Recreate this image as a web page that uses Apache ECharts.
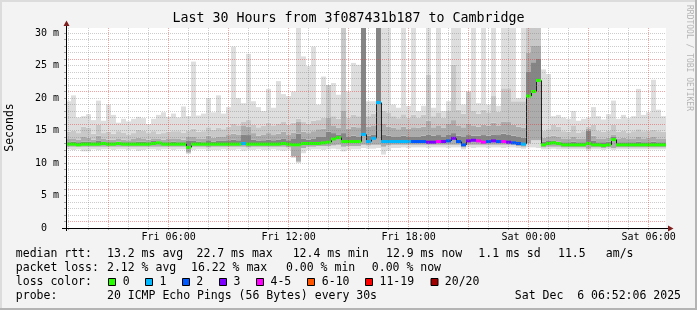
<!DOCTYPE html>
<html><head><meta charset="utf-8">
<script src="https://cdn.jsdelivr.net/npm/echarts@6/dist/echarts.min.js"></script>
<style>html,body{margin:0;padding:0;background:#f3f3f3}#c{width:697px;height:310px}</style>
</head><body><div id="c"></div>
<script>
// ---- time base (hours since Fri 00:00) ----
const START_HOUR = 52/60 + 6/3600;   // Fri 00:52:06
const STEP_HOURS = 0.25;             // one smoke column per 15 min
const SPAN_HOURS = 30;

// ---- tick labels ----
const hourTicks = [1,2,3,4,5,6,7,8,9,10,11,12,13,14,15,16,17,18,19,20,21,22,23,24,25,26,27,28,29,30];
const labelHours = [6,12,18,24,30];
const xTickLabels = ['Fri 06:00','Fri 12:00','Fri 18:00','Sat 00:00','Sat 06:00'];

// ---- smoke (ms) per 15-min column ----
const mx = [19.5,20.4,17.0,17.2,17.5,16.6,19.6,16.5,19.0,17.4,
 16.2,16.8,16.4,16.8,17.1,16.9,16.0,16.8,17.4,17.8,
 17.1,17.6,17.0,18.7,17.2,25.6,17.3,17.6,20.0,17.8,
 20.4,17.6,18.6,27.9,20.0,19.2,26.8,19.5,18.6,18.0,
 21.4,18.5,22.6,20.6,20.3,21.0,30.8,26.4,24.9,27.9,
 19.0,23.3,21.3,22.3,20.5,30.8,21.0,25.4,25.1,30.8,
 19.5,19.5,30.8,30.8,30.8,19.0,18.5,30.8,18.8,30.8,
 18.0,18.8,30.8,18.5,30.8,18.0,19.5,30.8,30.8,19.0,
 18.6,30.8,19.2,30.8,19.0,30.8,18.8,30.8,30.8,30.8,
 20.0,30.8,30.8,30.8,30.8,24.4,23.7,17.2,17.4,17.0,
 16.8,18.0,16.5,16.8,17.0,18.6,17.2,16.7,17.5,19.6,
 16.8,17.4,16.9,17.2,21.4,17.4,17.8,22.8,18.2,17.2];
const h2 = [14.8,15.0,14.6,15.6,15.4,14.5,15.9,14.6,14.8,14.5,
 14.9,14.7,14.4,14.6,15.1,15.0,14.6,14.9,14.5,14.6,
 14.8,14.9,14.9,14.7,15.0,15.3,14.8,14.9,15.5,15.1,
 15.4,15.2,15.6,16.0,15.8,16.4,16.6,15.9,15.5,15.7,
 16.2,15.8,16.0,16.4,15.9,16.2,16.8,16.3,16.0,16.5,
 16.6,17.0,22.0,17.2,16.8,30.8,17.0,17.4,17.2,30.8,
 17.2,17.6,30.8,18.0,17.8,17.2,16.9,17.5,17.0,17.4,
 17.0,17.4,23.6,17.2,17.8,17.0,18.0,25.1,18.2,17.6,
 21.0,18.0,17.6,18.2,17.8,20.3,17.9,21.5,21.5,19.5,
 19.5,19.5,30.8,30.8,30.8,15.0,15.2,15.9,15.6,14.9,
 14.8,15.8,14.7,14.9,15.6,15.9,15.0,14.8,15.0,15.9,
 14.8,15.0,14.7,14.9,15.2,14.9,15.0,15.1,14.9,14.8];
const h3 = [13.7,13.8,13.6,14.0,13.9,13.6,14.2,13.7,13.6,13.6,
 13.8,13.6,13.5,13.7,13.9,13.8,13.6,13.8,13.7,13.6,
 13.7,13.8,13.7,13.6,14.0,14.0,13.8,13.7,14.2,13.9,
 14.1,14.0,14.3,14.5,14.4,15.8,15.6,14.6,14.2,14.4,
 14.6,14.3,14.5,14.8,14.4,14.7,16.4,14.8,14.6,14.9,
 15.2,15.3,17.0,15.8,15.4,18.0,15.3,15.6,15.5,30.8,
 15.6,15.8,30.8,16.0,15.6,15.4,15.2,15.6,15.3,15.5,
 15.4,15.6,16.5,15.5,15.8,15.4,16.0,16.6,15.8,15.5,
 16.0,15.8,15.6,15.9,15.7,16.2,15.8,16.4,16.3,15.9,
 15.6,15.4,27.0,28.0,28.0,13.9,14.0,14.2,14.1,13.8,
 13.7,14.0,13.7,13.8,15.3,14.2,13.8,13.7,13.9,14.4,
 13.8,13.9,13.7,13.8,14.0,13.8,13.9,14.0,13.8,13.7];
const h4 = [13.2,13.3,13.2,13.3,13.3,13.2,13.4,13.2,13.2,13.2,
 13.3,13.2,13.2,13.2,13.3,13.3,13.2,13.4,13.3,13.2,
 13.2,13.3,13.2,13.2,13.4,13.4,13.3,13.2,13.5,13.3,
 13.4,13.4,13.5,13.6,13.5,14.4,14.3,13.6,13.4,13.5,
 13.6,13.5,13.6,13.7,13.5,13.8,14.5,13.7,13.6,13.7,
 14.0,14.1,14.8,14.6,14.4,14.6,14.0,14.2,14.1,30.8,
 14.2,14.4,30.8,14.4,14.2,14.1,14.0,14.2,14.0,14.1,
 14.1,14.2,14.4,14.2,14.3,14.1,14.4,14.6,14.2,14.0,
 14.3,14.2,14.2,14.3,14.2,14.4,14.3,14.5,14.4,14.2,
 14.0,13.9,24.0,25.5,26.0,13.3,13.4,13.4,13.3,13.2,
 13.2,13.3,13.2,13.2,15.0,13.4,13.2,13.2,13.3,14.1,
 13.2,13.2,13.2,13.2,13.3,13.2,13.2,13.3,13.2,13.2];
const md = [12.9,12.9,12.8,12.9,12.9,12.9,12.9,13.0,12.9,12.9,
 13.0,12.9,12.9,12.9,12.9,12.9,12.9,13.0,13.1,12.9,
 12.9,12.9,12.9,12.9,12.4,12.9,12.9,12.9,12.9,12.9,
 12.9,12.9,12.9,12.9,12.9,13.0,12.9,12.9,12.9,12.9,
 12.9,12.9,12.9,13.0,12.9,12.8,12.8,13.0,13.0,13.0,
 13.0,13.1,13.2,13.7,13.9,13.3,13.3,13.3,13.3,14.4,
 13.3,13.8,19.3,13.3,13.3,13.3,13.3,13.3,13.3,13.3,
 13.3,13.3,13.2,13.2,13.3,13.3,13.4,13.8,13.3,12.8,
 13.4,13.5,13.4,13.2,13.3,13.4,13.3,13.3,13.2,13.1,
 13.0,12.9,20.3,21.0,22.7,12.8,13.0,13.1,13.0,12.8,
 12.8,12.8,12.8,12.8,13.0,12.8,12.8,12.7,12.8,13.6,
 12.8,12.8,12.8,12.8,12.8,12.8,12.8,12.8,12.8,12.8];
const lo = [12.5,12.5,12.5,12.5,12.5,12.5,12.5,12.5,12.5,12.5,
 12.5,12.5,12.5,12.5,12.5,12.5,12.5,12.5,12.5,12.5,
 12.5,12.5,12.5,12.5,11.6,12.5,12.5,12.5,12.4,12.5,
 12.5,12.5,12.5,12.5,12.5,12.5,12.4,12.5,12.5,12.5,
 12.5,12.5,12.5,12.5,12.4,11.0,10.2,12.3,12.5,12.5,
 12.6,12.6,12.6,12.7,12.8,12.5,12.6,12.6,12.6,12.8,
 12.7,12.8,12.8,12.5,12.7,12.8,12.8,12.8,12.8,12.8,
 12.8,12.8,12.8,12.8,12.8,12.8,12.8,12.8,12.8,12.4,
 12.8,12.8,12.8,12.8,12.8,12.8,12.8,12.8,12.8,12.8,
 12.6,12.5,13.0,13.5,13.5,12.4,12.5,12.5,12.5,12.4,
 12.4,12.4,12.4,12.4,12.2,12.4,12.4,12.3,12.4,12.3,
 12.4,12.4,12.4,12.4,12.4,12.4,12.4,12.4,12.4,12.4];
const lw = [12.1,12.0,12.1,11.8,11.8,12.1,12.0,12.1,12.1,12.0,
 12.1,12.1,12.0,12.1,11.9,12.0,12.1,12.1,12.0,12.1,
 12.1,12.0,12.1,12.1,11.4,12.0,12.1,12.1,11.9,12.0,
 12.0,12.1,12.0,12.0,12.1,11.9,12.0,12.0,12.1,12.0,
 12.0,12.1,12.0,11.9,12.0,10.8,10.0,11.5,12.0,12.1,
 12.1,12.0,12.1,12.2,12.1,11.8,12.0,12.1,12.1,12.3,
 12.2,12.2,12.3,11.3,11.9,12.3,12.3,12.4,12.3,12.4,
 12.4,12.4,12.3,12.4,12.4,12.4,12.3,12.4,12.4,12.1,
 12.4,12.3,12.4,12.4,12.3,12.4,12.4,12.3,12.4,12.4,
 12.3,12.2,12.4,12.4,12.3,12.1,12.1,12.2,12.1,12.1,
 12.1,12.1,12.1,12.1,11.9,12.1,12.1,12.0,12.1,12.0,
 12.1,12.1,12.1,12.1,12.1,12.1,12.1,12.1,12.1,12.1];
// loss class index per column (0 = no loss, 1 = 1/20, 2 = 2/20, 3 = 3/20, 4 = 4-5/20)
const loss = [0,0,0,0,0,0,0,0,0,0, 0,0,0,0,0,0,0,0,0,0, 0,0,0,0,0,0,0,0,0,0,
 0,0,0,0,0,1,0,0,0,0, 0,0,0,0,0,0,0,0,0,0, 0,0,0,0,0,0,0,0,0,1,
 1,1,1,1,1,1,1,1,1,2, 2,2,3,3,4,3,2,3,2,2, 3,3,4,4,2,3,2,4,3,2,
 2,1,0,0,0,0,0,0,0,0, 0,0,0,0,0,0,0,0,0,0, 0,0,0,0,0,0,0,0,0,0];

const LOSS_LABELS = ['0','1','2','3','4-5','6-10','11-19','20/20'];
const LOSS_COLORS = ['#26ff00','#00b8ff','#0059ff','#7e00ff','#ff00ff','#ff5500','#ff0000','#a10000'];

const statsRtt = ['median rtt:','13.2 ms avg','22.7 ms max','12.4 ms min','12.9 ms now','1.1 ms sd','11.5','am/s'];
const statsLoss = ['packet loss:','2.12 % avg','16.22 % max','0.00 % min','0.00 % now'];
const probeLine = ['probe:','20 ICMP Echo Pings (56 Bytes) every 30s'];
const stampText = 'Sat Dec  6 06:52:06 2025';
const titleText = 'Last 30 Hours from 3f087431b187 to Cambridge';

// ---- layout (styles, not data) ----
const MONO = 'DejaVu Sans Mono';
const rttX = [15.8,107,196.5,292.7,386,478.3,558,605.8];
const lossX = [15.8,107,191,286,371.8];
const probeX = [15.8,107];
const boxX = [108.5,145.5,182.5,219.5,256.5,307.5,365.5,431];
const boxTextX = [122.8,159.5,196.2,233.5,270.5,321.8,379.5,444.8];
const SMOKE_FILLS = ['#dedede','#acacac','#858585','#acacac','#c8c8c8','#dedede'];
const GRID_MINOR = 'rgba(120,120,120,0.38)';
const GRID_MAJOR = 'rgba(225,50,50,0.45)';

const smokeRows = mx.map((v,i) => [START_HOUR + STEP_HOURS*i, START_HOUR + STEP_HOURS*(i+1), lw[i], lo[i], md[i], h4[i], h3[i], h2[i], mx[i]]);
const medRows = md.map((v,i) => [START_HOUR + STEP_HOURS*i, START_HOUR + STEP_HOURS*(i+1), v, i ? md[i-1] : v, loss[i]]);

function renderSmoke(params, api) {
  const top = params.coordSys.y;
  const x0 = api.coord([api.value(0), 0])[0];
  const x1 = api.coord([api.value(1), 0])[0];
  const ys = [2,3,4,5,6,7,8].map(d => Math.max(top, api.coord([api.value(0), api.value(d)])[1]));
  const children = [];
  for (let k = 0; k < SMOKE_FILLS.length; k++) {
    const a = ys[k], b = ys[k+1];
    if (a - b > 0.01) children.push({type:'rect', shape:{x:x0, y:b, width:x1-x0, height:a-b}, style:{fill:SMOKE_FILLS[k]}});
  }
  return {type:'group', children};
}
function renderMedian(params, api) {
  const x0 = api.coord([api.value(0), 0])[0];
  const x1 = api.coord([api.value(1), 0])[0];
  const y = api.coord([api.value(0), api.value(2)])[1];
  const yp = api.coord([api.value(0), api.value(3)])[1];
  return {type:'group', children:[
    {type:'line', shape:{x1:x0+0.5, y1:yp, x2:x0+0.5, y2:y}, style:{stroke:'#202020', lineWidth:1}},
    {type:'line', shape:{x1:x0, y1:y, x2:x1, y2:y}, style:{stroke:'#202020', lineWidth:1}},
    {type:'rect', shape:{x:x0, y:y-1.5, width:x1-x0, height:3}, style:{fill:LOSS_COLORS[api.value(4)]}}
  ]};
}

const txt = (text, x, y, extra) => ({type:'text', x, y, z:100, style:Object.assign({text, font:'11.5px "'+MONO+'"', fill:'#000', align:'left', verticalAlign:'middle'}, extra||{})});
const graphics = [
  {type:'rect', z:50, shape:{x:0,y:0,width:697,height:2}, style:{fill:'#dcdcdc'}},
  {type:'rect', z:50, shape:{x:0,y:0,width:2,height:310}, style:{fill:'#dcdcdc'}},
  {type:'rect', z:50, shape:{x:695,y:0,width:2,height:310}, style:{fill:'#b4b4b4'}},
  {type:'rect', z:50, shape:{x:0,y:308,width:697,height:2}, style:{fill:'#b4b4b4'}},
  txt(titleText, 348.5, 18.5, {font:'13.3px "'+MONO+'"', align:'center'}),
  Object.assign(txt('Seconds', 10.5, 127.5, {align:'center'}), {rotation: Math.PI/2}),
  Object.assign(txt('RRDTOOL / TOBI OETIKER', 689.5, 5, {font:'8px "'+MONO+'"', fill:'#b4b4b4'}), {rotation: -Math.PI/2}),
  {type:'line', z:100, shape:{x1:62, y1:228.5, x2:669, y2:228.5}, style:{stroke:'#000', lineWidth:1}},
  {type:'line', z:100, shape:{x1:66.5, y1:231, x2:66.5, y2:25}, style:{stroke:'#000', lineWidth:1}},
  {type:'polygon', z:101, shape:{points:[[63.5,26],[69.5,26],[66.5,20.5]]}, style:{fill:'#7f1f1f'}},
  {type:'polygon', z:101, shape:{points:[[668,225.5],[668,231.5],[673.5,228.5]]}, style:{fill:'#7f1f1f'}},
];
statsRtt.forEach((t,i) => graphics.push(txt(t, rttX[i], 254.5)));
statsLoss.forEach((t,i) => graphics.push(txt(t, lossX[i], 268.5)));
graphics.push(txt('loss color:', 15.8, 282.3));
LOSS_LABELS.forEach((t,i) => {
  graphics.push({type:'rect', z:100, shape:{x:boxX[i], y:278.5, width:7, height:7}, style:{fill:LOSS_COLORS[i], stroke:'#000', lineWidth:1}});
  graphics.push(txt(t, boxTextX[i], 282.3));
});
probeLine.forEach((t,i) => graphics.push(txt(t, probeX[i], 296.3)));
graphics.push(txt(stampText, 681, 296.3, {align:'right'}));

const chart = echarts.init(document.getElementById('c'), null, {renderer:'canvas'});
chart.setOption({
  animation: false,
  backgroundColor: '#f3f3f3',
  grid: {left:66, top:28, width:600, height:200, show:true, backgroundColor:'#ffffff', borderWidth:0},
  xAxis: {
    type:'value', min:START_HOUR, max:START_HOUR+SPAN_HOURS, z:10,
    axisLine:{show:false},
    axisTick:{show:true, length:2, customValues:hourTicks, lineStyle:{color:'rgba(130,130,130,0.7)'}},
    axisLabel:{customValues:labelHours, margin:4, fontFamily:MONO, fontSize:10, color:'#000',
      formatter: v => xTickLabels[labelHours.indexOf(Math.round(v))] || ''},
    splitLine:{show:true, lineStyle:{color:[GRID_MINOR, GRID_MINOR, GRID_MAJOR], type:[1,1], width:1}}
  },
  yAxis: {
    type:'value', min:0, max:200/6.5, interval:1, z:10,
    axisLine:{show:false},
    axisTick:{show:true, length:2, lineStyle:{color:'rgba(130,130,130,0.7)'}},
    axisLabel:{margin:7, fontFamily:MONO, fontSize:10, color:'#000', showMaxLabel:false,
      formatter: v => (Math.abs(v % 5) < 1e-6) ? (v === 0 ? '0  ' : v + ' m') : ''},
    splitLine:{show:true, showMinLine:false, showMaxLine:false, lineStyle:{color:[GRID_MAJOR, GRID_MINOR, GRID_MINOR, GRID_MINOR, GRID_MINOR], type:[1,1], width:1}}
  },
  series: [
    {type:'custom', renderItem:renderSmoke, data:smokeRows, z:2, silent:true},
    {type:'custom', renderItem:renderMedian, data:medRows, z:3, silent:true}
  ],
  graphic: graphics
});
</script></body></html>
